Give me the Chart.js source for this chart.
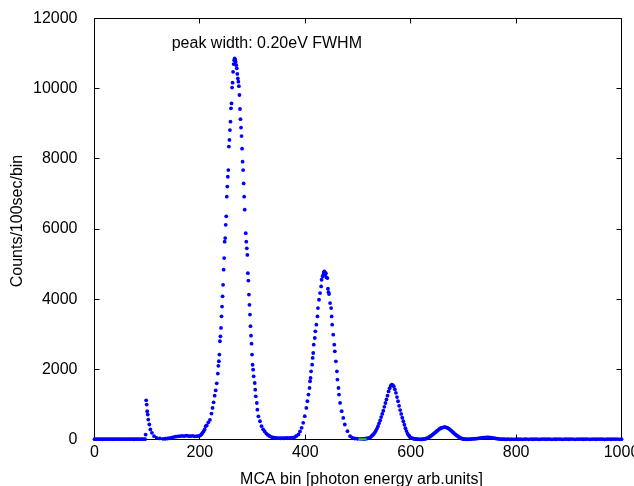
<!DOCTYPE html>
<html><head><meta charset="utf-8">
<script src="https://cdn.jsdelivr.net/npm/chart.js@4/dist/chart.umd.min.js"></script>
<style>html,body{margin:0;padding:0;background:#fff;overflow:hidden}canvas{display:block}</style>
</head><body>
<canvas id="c" width="634" height="486"></canvas>
<script>
// ---- data (MCA bin, counts/100sec/bin) ----
const baselineBins   = [0,3,6,9,12,15,18,21,24,27,30,33,36,39,42,45,48,51,54,57,60,63,66,69,72,75,78,81,84,87,90,93,96];
const baselineCounts = [10,8,12,9,11,7,10,12,8,9,11,10,7,9,12,10,8,11,9,10,12,8,9,10,11,7,10,9,12,8,10,11,9];

const spikeBins   = [97,98,99,100,101,102,104,106,109,113,118,124,130,134,138,142,146,150,154,158,162,166,170,174,178,182,186,190,194,198,201,203,205,207,209,211];
const spikeCounts = [140,1118,996,805,711,569,427,285,190,95,47,30,19,22,28,35,50,70,80,90,95,105,95,110,100,95,105,90,95,100,120,150,190,230,285,380];

const peak1Bins   = [213,216,219,222,224,226,228,230,232,234,235,236,237,238,239,240,241,242,243,244,245,246,247,248,249,250,251,252,253,254,255,256,257,258,259,260,261,262,263,264,265,266,267,268,269,270,271,272,273,274,275,276,277,278,279,280,281,282,283,284,285,287,288,289,290,291,292,293,294,295,296,297,298,299,300,301,302,304,305,306,308,309,311,314,317,320,323,326,329,332,335,338,341,344,347,350,353,356,359,362,365,368,371,374];
const peak1Counts = [400,490,560,740,900,1060,1250,1400,1600,1880,2100,2230,2420,2800,2940,3180,3510,3790,4080,4410,4840,5170,5640,5740,6120,6360,6920,7210,7490,7680,8350,8540,8820,9060,9440,9580,10030,10170,10480,10700,10810,10860,10830,10760,10670,10580,10420,10290,10200,10070,9820,9420,9130,8890,8650,8290,7920,7680,7300,6920,6550,5880,5640,5450,5260,4740,4530,4130,3840,3560,3230,2960,2730,2420,2130,1990,1800,1610,1420,1230,1040,850,660,520,380,290,230,170,130,100,75,60,50,45,40,38,35,40,35,40,45,40,45,50];

const peak2Bins   = [377,380,383,387,390,393,396,399,402,404,406,408,409,410,411,413,414,415,416,418,419,421,423,424,426,428,430,431,433,434,435,436,437,438,439,440,442,443,444,445,447,449,450,451,453,455,456,458,460,461,463,464,466,469,472,475,480,485,489,494,499,504,508];
const peak2Counts = [47,70,100,142,230,332,474,664,901,1091,1280,1470,1660,1755,1944,2134,2324,2466,2703,2893,3083,3272,3509,3746,3984,4173,4363,4553,4650,4695,4760,4790,4760,4700,4742,4620,4600,4297,4200,4145,3889,3746,3509,3272,2988,2703,2513,2229,1944,1707,1470,1280,1043,806,616,427,237,95,50,28,22,20,18];

const peak3Bins   = [510,512,514,516,518,520,522,524,526,528,530,532,534,536,538,540,542,544,546,548,550,552,554,556,558,560,562,564,566,568,570,572,574,576,578,580,582,584,586,588,590,592,594,596,598,600,602,604,606,608,610,612,614,616,618,620];
const peak3Counts = [18,20,24,28,34,40,48,70,100,128,160,205,255,310,380,460,545,640,730,820,930,1040,1140,1250,1370,1460,1530,1565,1550,1510,1430,1330,1210,1090,960,840,730,620,520,420,320,240,170,120,80,55,40,30,22,16,12,10,8,6,5,6];

const peak4Bins   = [622,624,626,628,630,632,634,636,638,640,642,644,646,648,650,652,654,656,658,660,662,664,666,668,670,672,674,676,678,680,682,684,686,688,690,692,694,696,698,700,702,704,706,708,710];
const peak4Counts = [7,10,15,22,30,42,60,78,100,120,145,170,195,220,245,270,295,315,330,340,348,352,350,340,330,310,290,262,240,210,180,155,130,108,85,65,48,32,22,14,10,8,6,6,8];

const peak5Bins   = [713,716,719,722,725,728,731,734,737,740,743,746,749,752,755,758,761,764,767,770,773,776,779,782,785,788];
const peak5Counts = [10,14,18,22,27,32,38,44,50,54,58,60,58,54,48,40,32,24,16,12,9,8,7,6,8,6];

const tailBins   = [792,796,800,804,808,812,816,820,824,828,832,836,840,844,848,852,856,860,864,868,872,876,880,884,888,892,896,900,904,908,912,916,920,924,928,932,936,940,944,948,952,956,960,964,968,972,976,980,984,988,992,996,1000,1004,1008];
const tailCounts = [8,6,10,7,9,5,8,11,6,9,7,10,8,6,9,12,7,8,10,6,9,7,11,8,6,10,9,7,8,12,6,9,8,10,7,9,11,6,8,10,7,9,8,12,6,9,10,7,8,9,11,6,8,10,7];

const greenBins   = [501,516];
const greenCounts = [10,10];

const xTickValues = [0,200,400,600,800,1000];
const yTickValues = [0,2000,4000,6000,8000,10000,12000];

const xTitle = 'MCA bin [photon energy arb.units]';
const yTitle = 'Counts/100sec/bin';
const noteText = 'peak width: 0.20eV FWHM';

// ---- build points ----
const segments = [
  [baselineBins, baselineCounts], [spikeBins, spikeCounts], [peak1Bins, peak1Counts],
  [peak2Bins, peak2Counts], [peak3Bins, peak3Counts], [peak4Bins, peak4Counts],
  [peak5Bins, peak5Counts], [tailBins, tailCounts]
];
const bluePoints = [];
segments.forEach(([b, c]) => b.forEach((v, i) => bluePoints.push({x: v, y: c[i]})));
const greenPoints = greenBins.map((v, i) => ({x: v, y: greenCounts[i]}));

const FONT = '"Liberation Sans", Arial, Helvetica, sans-serif';
Chart.defaults.font.family = FONT;
Chart.defaults.font.size = 16;
Chart.defaults.color = '#000';

const frameTicks = {
  id: 'frameTicks',
  beforeDatasetsDraw(chart) {
    const {ctx, chartArea: a, scales: {x, y}} = chart;
    ctx.save();
    ctx.strokeStyle = '#000';
    ctx.lineWidth = 1;
    ctx.beginPath();
    ctx.rect(a.left, a.top, a.right - a.left, a.bottom - a.top);
    ctx.stroke();
    const L = 5;
    ctx.beginPath();
    x.ticks.forEach(t => {
      const px = Math.round(x.getPixelForValue(t.value) - 0.5) + 0.5;
      ctx.moveTo(px, a.bottom); ctx.lineTo(px, a.bottom - L);
      ctx.moveTo(px, a.top); ctx.lineTo(px, a.top + L);
    });
    y.ticks.forEach(t => {
      const py = Math.round(y.getPixelForValue(t.value) - 0.5) + 0.5;
      ctx.moveTo(a.left, py); ctx.lineTo(a.left + L, py);
      ctx.moveTo(a.right, py); ctx.lineTo(a.right - L, py);
    });
    ctx.stroke();
    ctx.restore();
  },
  afterDatasetsDraw(chart) {
    const {ctx, chartArea: a, scales: {x, y}} = chart;
    ctx.save();
    ctx.font = '16px ' + FONT;
    ctx.fillStyle = '#000';
    ctx.textAlign = 'left';
    ctx.textBaseline = 'alphabetic';
    ctx.fillText(noteText, x.getPixelForValue(146.5), y.getPixelForValue(11150));
    // axis titles
    ctx.textAlign = 'center';
    ctx.textBaseline = 'middle';
    ctx.fillText(xTitle, (a.left + a.right) / 2 + 3.5, 480);
    ctx.translate(17.5, (a.top + a.bottom) / 2 - 8);
    ctx.rotate(-Math.PI / 2);
    ctx.fillText(yTitle, 0, 0);
    ctx.restore();
  }
};

const fixPad = s => { s.paddingLeft = 0; s.paddingRight = 0; s.paddingTop = 0; s.paddingBottom = 0; };

new Chart(document.getElementById('c'), {
  type: 'scatter',
  data: {
    datasets: [
      {label: 'bg', data: greenPoints, showLine: true, borderColor: '#22cc22', borderWidth: 2,
       pointRadius: 0, clip: false},
      {label: 'spectrum', data: bluePoints, showLine: false, pointRadius: 1.9, pointBorderWidth: 0,
       pointBackgroundColor: '#0000ff', pointBorderColor: '#0000ff', clip: false}
    ]
  },
  options: {
    responsive: false,
    animation: false,
    events: [],
    layout: {padding: {top: 18.5, right: 12.5, left: 0, bottom: 0}},
    plugins: {legend: {display: false}, tooltip: {enabled: false}},
    scales: {
      x: {
        type: 'linear', min: 0, max: 1000,
        afterBuildTicks: s => { s.ticks = xTickValues.map(v => ({value: v})); },
        afterFit: s => { s.height = 46.5; fixPad(s); },
        grid: {display: false, drawTicks: false},
        border: {display: false},
        ticks: {padding: 3, maxRotation: 0, color: '#000', font: {size: 16}, callback: v => String(v)},
        title: {display: false}
      },
      y: {
        type: 'linear', min: 0, max: 12000,
        afterBuildTicks: s => { s.ticks = yTickValues.map(v => ({value: v})); },
        afterFit: s => { s.width = 94.5; fixPad(s); },
        grid: {display: false, drawTicks: false},
        border: {display: false},
        ticks: {padding: 17, color: '#000', font: {size: 16}, callback: v => String(v)},
        title: {display: false}
      }
    }
  },
  plugins: [frameTicks]
});
</script>
</body></html>
